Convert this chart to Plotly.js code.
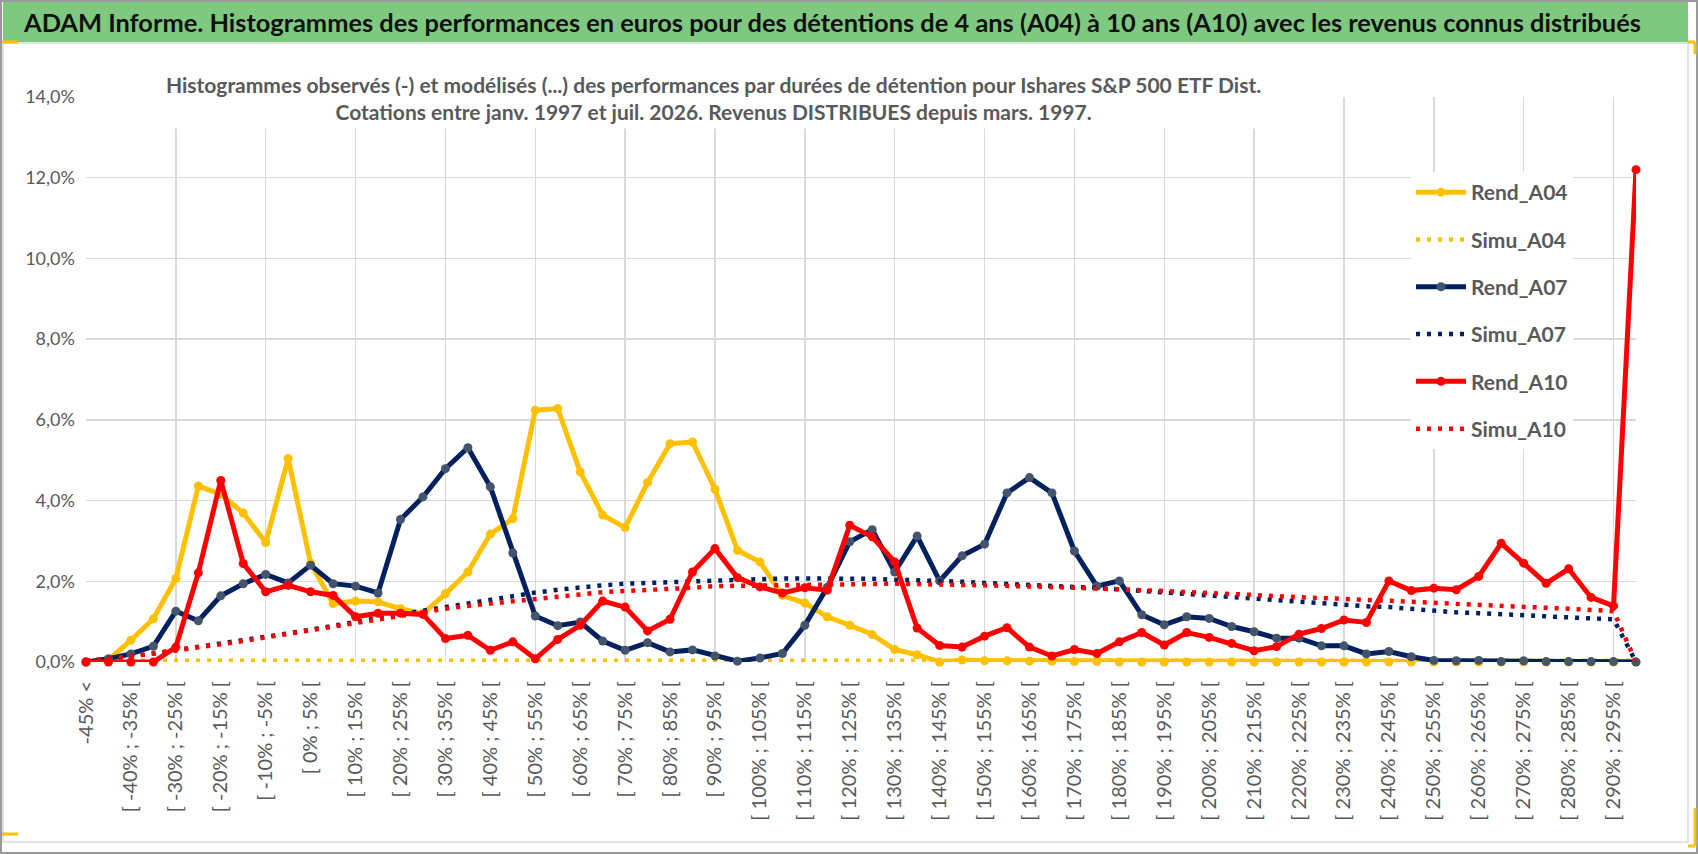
<!DOCTYPE html>
<html>
<head>
<meta charset="utf-8">
<script src="https://cdn.plot.ly/plotly-3.0.1.min.js"></script>
<style>
  html, body { margin: 0; padding: 0; background: #ffffff; }
  #chart_area { width: 1698px; height: 854px; }
</style>
</head>
<body>
<div id="chart_area"></div>
<script>
// tranches de performance (70 classes de 5 %)
var categories = [
  '-45% <', '[ -45% ; -40% [', '[ -40% ; -35% [', '[ -35% ; -30% [', '[ -30% ; -25% [',
  '[ -25% ; -20% [', '[ -20% ; -15% [', '[ -15% ; -10% [', '[ -10% ; -5% [', '[ -5% ; 0% [',
  '[ 0% ; 5% [', '[ 5% ; 10% [', '[ 10% ; 15% [', '[ 15% ; 20% [', '[ 20% ; 25% [',
  '[ 25% ; 30% [', '[ 30% ; 35% [', '[ 35% ; 40% [', '[ 40% ; 45% [', '[ 45% ; 50% [',
  '[ 50% ; 55% [', '[ 55% ; 60% [', '[ 60% ; 65% [', '[ 65% ; 70% [', '[ 70% ; 75% [',
  '[ 75% ; 80% [', '[ 80% ; 85% [', '[ 85% ; 90% [', '[ 90% ; 95% [', '[ 95% ; 100% [',
  '[ 100% ; 105% [', '[ 105% ; 110% [', '[ 110% ; 115% [', '[ 115% ; 120% [', '[ 120% ; 125% [',
  '[ 125% ; 130% [', '[ 130% ; 135% [', '[ 135% ; 140% [', '[ 140% ; 145% [', '[ 145% ; 150% [',
  '[ 150% ; 155% [', '[ 155% ; 160% [', '[ 160% ; 165% [', '[ 165% ; 170% [', '[ 170% ; 175% [',
  '[ 175% ; 180% [', '[ 180% ; 185% [', '[ 185% ; 190% [', '[ 190% ; 195% [', '[ 195% ; 200% [',
  '[ 200% ; 205% [', '[ 205% ; 210% [', '[ 210% ; 215% [', '[ 215% ; 220% [', '[ 220% ; 225% [',
  '[ 225% ; 230% [', '[ 230% ; 235% [', '[ 235% ; 240% [', '[ 240% ; 245% [', '[ 245% ; 250% [',
  '[ 250% ; 255% [', '[ 255% ; 260% [', '[ 260% ; 265% [', '[ 265% ; 270% [', '[ 270% ; 275% [',
  '[ 275% ; 280% [', '[ 280% ; 285% [', '[ 285% ; 290% [', '[ 290% ; 295% [', '> 295%'
];

// frequences en %
var rend_A04 = [
  0, 0.05, 0.54, 1.07, 2.07, 4.36, 4.16, 3.69, 2.96, 5.04,
  2.45, 1.45, 1.51, 1.49, 1.32, 1.20, 1.69, 2.23, 3.17, 3.55,
  6.24, 6.28, 4.71, 3.64, 3.33, 4.45, 5.41, 5.45, 4.28, 2.77,
  2.48, 1.65, 1.46, 1.12, 0.91, 0.68, 0.31, 0.18, 0.00, 0.05,
  0.03, 0.03, 0.02, 0.02, 0.01, 0.01, 0, 0, 0, 0,
  0, 0, 0, 0, 0, 0, 0, 0, 0, 0,
  0, 0, 0, 0, 0, 0, 0, 0, 0, 0
];
var simu_A04 = [
  0.03, 0.03, 0.03, 0.03, 0.03, 0.03, 0.03, 0.03, 0.03, 0.03,
  0.03, 0.03, 0.03, 0.03, 0.03, 0.03, 0.03, 0.03, 0.03, 0.03,
  0.03, 0.03, 0.03, 0.03, 0.03, 0.03, 0.03, 0.03, 0.03, 0.03,
  0.03, 0.03, 0.03, 0.03, 0.03, 0.03, 0.03, 0.03, 0.03, 0.03,
  0.03, 0.03, 0.03, 0.03, 0.03, 0.03, 0.03, 0.03, 0.03, 0.03,
  0.03, 0.03, 0.03, 0.03, 0.03, 0.03, 0.03, 0.03, 0.03, 0.03,
  0.03, 0.03, 0.03, 0.03, 0.03, 0.03, 0.03, 0.03, 0.03, 0.03
];
var rend_A07 = [
  0, 0.08, 0.20, 0.39, 1.26, 1.02, 1.64, 1.94, 2.17, 1.96,
  2.40, 1.94, 1.88, 1.71, 3.53, 4.09, 4.79, 5.31, 4.34, 2.70,
  1.14, 0.90, 0.99, 0.52, 0.29, 0.48, 0.25, 0.30, 0.15, 0.02,
  0.10, 0.21, 0.91, 1.85, 2.98, 3.28, 2.23, 3.12, 2.01, 2.63,
  2.92, 4.19, 4.57, 4.19, 2.75, 1.88, 2.01, 1.17, 0.92, 1.12,
  1.08, 0.88, 0.75, 0.59, 0.59, 0.40, 0.40, 0.20, 0.26, 0.13,
  0.04, 0.03, 0.04, 0.01, 0.03, 0.01, 0.01, 0.01, 0.01, 0
];
var simu_A07 = [
  0.03, 0.08, 0.14, 0.21, 0.29, 0.37, 0.45, 0.53, 0.62, 0.71,
  0.80, 0.90, 1.00, 1.09, 1.18, 1.27, 1.36, 1.46, 1.55, 1.64,
  1.72, 1.79, 1.85, 1.90, 1.94, 1.96, 1.98, 2.01, 2.03, 2.05,
  2.06, 2.07, 2.07, 2.07, 2.07, 2.06, 2.04, 2.03, 2.01, 1.99,
  1.96, 1.93, 1.90, 1.88, 1.86, 1.84, 1.80, 1.76, 1.72, 1.68,
  1.64, 1.60, 1.56, 1.53, 1.50, 1.45, 1.41, 1.38, 1.36, 1.31,
  1.26, 1.23, 1.21, 1.18, 1.15, 1.13, 1.10, 1.08, 1.06, 0
];
var rend_A10 = [
  0, 0, 0, 0, 0.37, 2.21, 4.50, 2.44, 1.74, 1.90,
  1.74, 1.65, 1.12, 1.21, 1.21, 1.18, 0.58, 0.66, 0.29, 0.50,
  0.08, 0.56, 0.91, 1.51, 1.36, 0.77, 1.06, 2.23, 2.81, 2.09,
  1.86, 1.71, 1.84, 1.78, 3.39, 3.10, 2.48, 0.84, 0.41, 0.37,
  0.64, 0.85, 0.37, 0.15, 0.31, 0.21, 0.50, 0.73, 0.42, 0.73,
  0.61, 0.46, 0.28, 0.38, 0.69, 0.83, 1.04, 0.98, 2.01, 1.77,
  1.83, 1.79, 2.12, 2.94, 2.45, 1.95, 2.31, 1.60, 1.39, 12.2
];
var simu_A10 = [
  0.03, 0.08, 0.14, 0.21, 0.28, 0.36, 0.44, 0.52, 0.61, 0.70,
  0.79, 0.88, 0.98, 1.07, 1.15, 1.24, 1.32, 1.39, 1.45, 1.51,
  1.57, 1.63, 1.68, 1.73, 1.76, 1.78, 1.80, 1.84, 1.88, 1.89,
  1.90, 1.91, 1.92, 1.93, 1.94, 1.94, 1.94, 1.93, 1.93, 1.91,
  1.90, 1.89, 1.88, 1.86, 1.84, 1.82, 1.81, 1.78, 1.76, 1.74,
  1.71, 1.69, 1.66, 1.63, 1.61, 1.58, 1.56, 1.54, 1.52, 1.49,
  1.47, 1.44, 1.42, 1.39, 1.37, 1.34, 1.32, 1.29, 1.26, 0
];

var xs = categories.map(function (c, i) { return i; });
var labelVals = xs.filter(function (i) { return i % 2 === 0; });
var labelText = labelVals.map(function (i) { return categories[i]; });
var gridVals = xs.filter(function (i) { return i % 4 === 0; });

var yellow = '#FFC000', navy = '#002060', red = '#FF0000';

function rend(name, y, color, mcolor) {
  return {
    type: 'scatter', mode: 'lines+markers', name: name, legendgroup: name,
    x: xs, y: y, cliponaxis: false,
    line: { color: color, width: 5 },
    marker: { color: mcolor, size: 9 }
  };
}
function simu(name, y, color) {
  return {
    type: 'scatter', mode: 'lines', name: name, legendgroup: name,
    x: xs, y: y, cliponaxis: false,
    line: { color: color, width: 4.5, dash: '4px,7px' }
  };
}

var data = [
  rend('Rend_A04', rend_A04, yellow, yellow),
  simu('Simu_A04', simu_A04, yellow),
  rend('Rend_A07', rend_A07, navy, '#44546A'),
  simu('Simu_A07', simu_A07, navy),
  rend('Rend_A10', rend_A10, red, red),
  simu('Simu_A10', simu_A10, red)
];

var font = 'Lato, "Liberation Sans", sans-serif';
var grey = '#595959';

// pixel -> paper helpers for the frame (plot area 86..1636 x 97..662)
function px(p) { return (p - 86) / 1550; }
function py(p) { return (662 - p) / 565; }
function mark(x0, y0, x1, y1) {
  return { type: 'line', xref: 'paper', yref: 'paper', layer: 'above',
    x0: px(x0), y0: py(y0), x1: px(x1), y1: py(y1),
    line: { color: '#FFC000', width: 3 } };
}

var layout = {
  width: 1698, height: 854,
  margin: { l: 86, r: 62, t: 97, b: 192 },
  paper_bgcolor: '#ffffff', plot_bgcolor: '#ffffff',
  separators: ', ',
  showlegend: true,
  title: {
    text: 'ADAM Informe. Histogrammes des performances en euros pour des détentions de 4 ans (A04) à 10 ans (A10) avec les revenus connus distribués',
    font: { family: font, size: 25.4, color: '#111111', weight: 'bold' },
    x: 24 / 1698, xanchor: 'left', y: 1 - 23 / 854, yanchor: 'middle'
  },
  xaxis: {
    type: 'linear', range: [0, 69], fixedrange: true,
    tickmode: 'array', tickvals: labelVals, ticktext: labelText,
    tickangle: -90, ticks: '', ticklabelstandoff: 14,
    tickfont: { family: font, size: 20, color: grey },
    showgrid: false, zeroline: false, showline: false,
    minor: { tickmode: 'array', tickvals: gridVals, showgrid: true, gridcolor: '#d9d9d9', gridwidth: 1.5, ticks: '' }
  },
  yaxis: {
    range: [0, 14], dtick: 2, tick0: 0, fixedrange: true,
    tickformat: '.1f', ticksuffix: '%', ticks: '', ticklabelstandoff: 10,
    tickfont: { family: font, size: 18, color: grey },
    showgrid: true, gridcolor: '#d9d9d9', gridwidth: 1.5,
    zeroline: false, showline: false
  },
  legend: {
    x: px(1411), xanchor: 'left', y: py(172), yanchor: 'top',
    bgcolor: '#ffffff', borderwidth: 0,
    font: { family: font, size: 21, color: grey, weight: 'bold' },
    tracegroupgap: 17, itemwidth: 50
  },
  annotations: [{
    text: 'Histogrammes observés (-) et modélisés (...) des performances par durées de détention pour Ishares S&P 500 ETF Dist.<br>Cotations entre janv. 1997 et juil. 2026. Revenus DISTRIBUES depuis mars. 1997.',
    xref: 'paper', yref: 'paper', x: px(713), y: py(98), xanchor: 'center', yanchor: 'middle',
    showarrow: false, align: 'center', bgcolor: '#ffffff', borderpad: 4,
    font: { family: font, size: 21, color: grey, weight: 'bold' }
  }],
  shapes: [
    { type: 'rect', xref: 'paper', yref: 'paper', layer: 'below',
      x0: px(3), x1: px(1688), y0: py(42), y1: py(2),
      fillcolor: '#7ec97f', line: { width: 0 } },
    { type: 'rect', xref: 'paper', yref: 'paper', layer: 'below',
      x0: px(3), x1: px(1688), y0: py(842), y1: py(43),
      fillcolor: 'rgba(0,0,0,0)', line: { color: '#d9d9d9', width: 1.5 } },
    { type: 'rect', xref: 'paper', yref: 'paper', layer: 'below',
      x0: px(1), x1: px(1697), y0: py(853), y1: py(1),
      fillcolor: 'rgba(0,0,0,0)', line: { color: '#9a9a9a', width: 2 } },
    // poignées de sélection jaunes
    mark(2, 42, 18, 42),
    mark(2, 834, 18, 834),
    mark(1688, 42, 1695, 42), mark(1695, 42, 1695, 54),
    mark(1695, 808, 1695, 846), mark(1688, 846, 1695, 846)
  ]
};

var config = { responsive: false, displayModeBar: false, staticPlot: true };

Plotly.newPlot('chart_area', data, layout, config);
</script>
</body>
</html>
